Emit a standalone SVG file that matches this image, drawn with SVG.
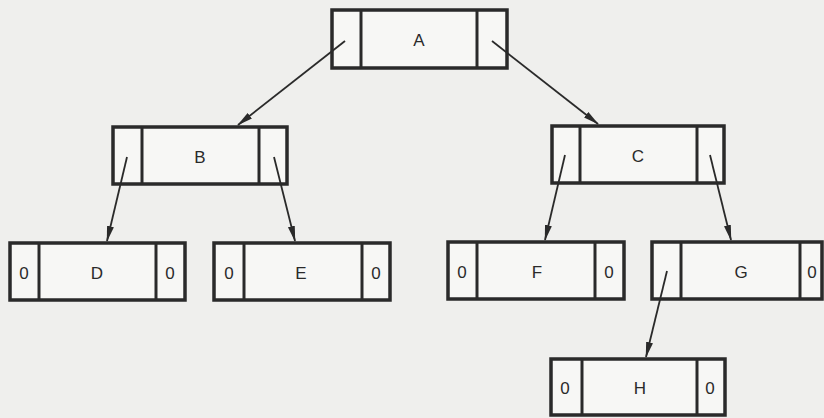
<svg xmlns="http://www.w3.org/2000/svg" width="824" height="418" viewBox="0 0 824 418">
<defs>
<style>
.box{fill:#f7f7f5;stroke:#2a2a2a;stroke-width:3.5}
.div{stroke:#2a2a2a;stroke-width:3}
.lbl{font-family:"Liberation Sans",Arial,sans-serif;font-size:17px;fill:#2a2a2a;text-anchor:middle;dominant-baseline:central}
.edge{stroke:#2a2a2a;stroke-width:1.8;fill:none;marker-end:url(#ah)}
</style>
<marker id="ah" markerWidth="16" markerHeight="8" refX="15" refY="4" orient="auto" markerUnits="userSpaceOnUse">
<path d="M0,0.5 L16,4 L0,7.5 Z" fill="#2a2a2a"/>
</marker>
</defs>
<rect width="824" height="418" fill="#efefed"/>
<g id="A">
<rect class="box" x="332" y="10" width="175" height="58"/>
<line class="div" x1="361" y1="10" x2="361" y2="68"/>
<line class="div" x1="477" y1="10" x2="477" y2="68"/>
<text class="lbl" x="419" y="40">A</text>
</g>
<g id="B">
<rect class="box" x="113" y="127" width="174" height="57"/>
<line class="div" x1="142" y1="127" x2="142" y2="184"/>
<line class="div" x1="259" y1="127" x2="259" y2="184"/>
<text class="lbl" x="200" y="157">B</text>
</g>
<g id="C">
<rect class="box" x="552" y="126" width="172" height="57"/>
<line class="div" x1="580" y1="126" x2="580" y2="183"/>
<line class="div" x1="697" y1="126" x2="697" y2="183"/>
<text class="lbl" x="638" y="156">C</text>
</g>
<g id="D">
<rect class="box" x="10" y="243" width="175" height="57"/>
<line class="div" x1="39" y1="243" x2="39" y2="300"/>
<line class="div" x1="156" y1="243" x2="156" y2="300"/>
<text class="lbl" x="24" y="273">0</text>
<text class="lbl" x="97" y="273">D</text>
<text class="lbl" x="170" y="273">0</text>
</g>
<g id="E">
<rect class="box" x="214" y="243" width="176" height="57"/>
<line class="div" x1="244" y1="243" x2="244" y2="300"/>
<line class="div" x1="362" y1="243" x2="362" y2="300"/>
<text class="lbl" x="229" y="273">0</text>
<text class="lbl" x="301" y="273">E</text>
<text class="lbl" x="376" y="273">0</text>
</g>
<g id="F">
<rect class="box" x="448" y="242" width="176" height="57"/>
<line class="div" x1="477" y1="242" x2="477" y2="299"/>
<line class="div" x1="595" y1="242" x2="595" y2="299"/>
<text class="lbl" x="462" y="272">0</text>
<text class="lbl" x="537" y="272">F</text>
<text class="lbl" x="609" y="272">0</text>
</g>
<g id="G">
<rect class="box" x="652" y="242" width="170" height="57"/>
<line class="div" x1="681" y1="242" x2="681" y2="299"/>
<line class="div" x1="800" y1="242" x2="800" y2="299"/>
<text class="lbl" x="741" y="272">G</text>
<text class="lbl" x="812" y="272">0</text>
</g>
<g id="H">
<rect class="box" x="551" y="359" width="174" height="56"/>
<line class="div" x1="582" y1="359" x2="582" y2="415"/>
<line class="div" x1="697" y1="359" x2="697" y2="415"/>
<text class="lbl" x="565" y="388">0</text>
<text class="lbl" x="640" y="388">H</text>
<text class="lbl" x="710" y="388">0</text>
</g>
<g id="connectors">
<line class="edge" x1="345" y1="41" x2="238" y2="125"/>
<line class="edge" x1="492" y1="41" x2="598" y2="124"/>
<line class="edge" x1="127" y1="157" x2="107" y2="241"/>
<line class="edge" x1="274" y1="157" x2="295" y2="241"/>
<line class="edge" x1="565" y1="155" x2="545" y2="240"/>
<line class="edge" x1="710" y1="155" x2="731" y2="240"/>
<line class="edge" x1="667" y1="271" x2="646" y2="357"/>
</g>
</svg>
